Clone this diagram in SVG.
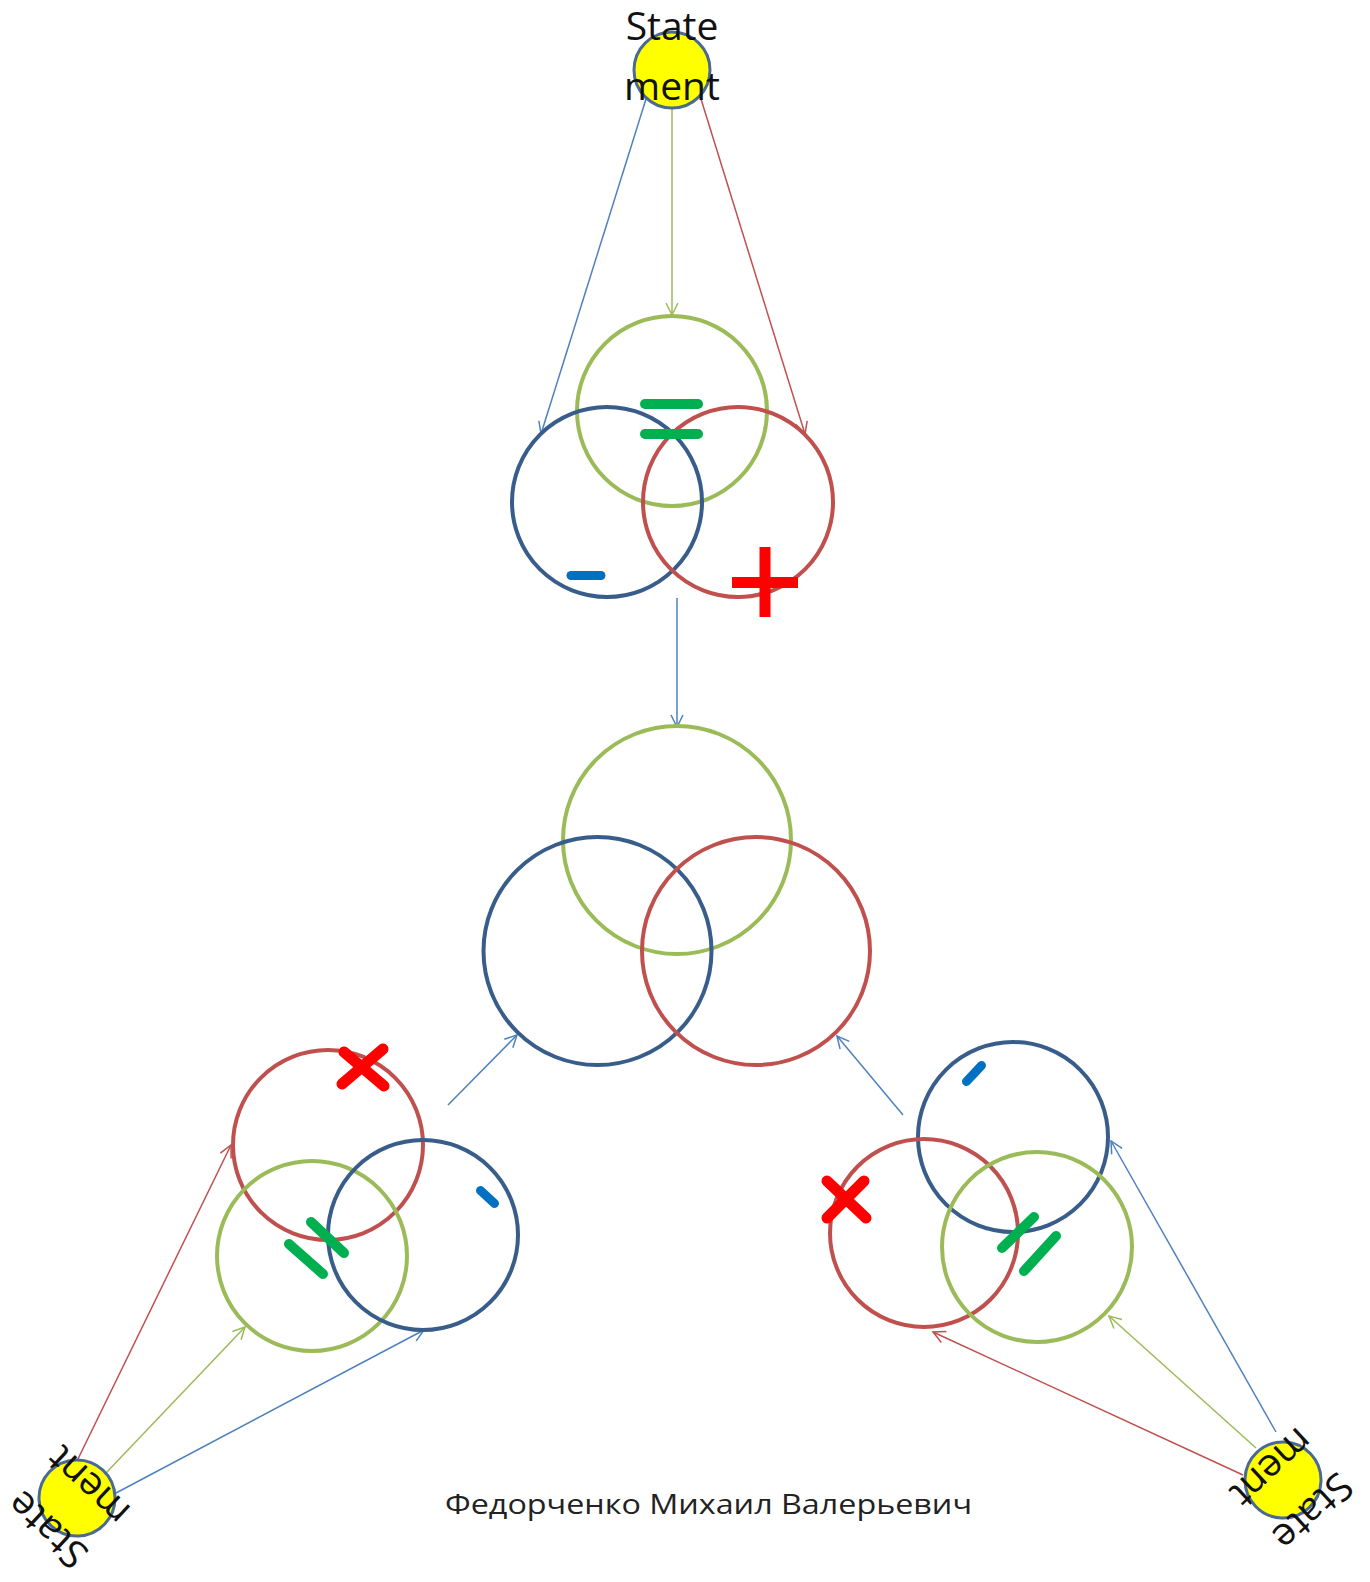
<svg xmlns="http://www.w3.org/2000/svg" width="1370" height="1582" viewBox="0 0 1370 1582">
<style>
.bg{fill:#FFFFFF}
.ring{fill:none;stroke-width:4}
.gr{stroke:#9BBB59}
.bl{stroke:#385D8A}
.rd{stroke:#C0504D}
.stmt{fill:#FFFF00;stroke:#4A6A94;stroke-width:3}
.lbl{font-family:"Open Sans","Noto Sans","Liberation Sans",sans-serif;font-size:39px;fill:#111111;text-anchor:middle}
.author{font-family:"Open Sans","Noto Sans","Liberation Sans",sans-serif;font-size:28px;fill:#222222}
.cb{stroke:#4F81BD;stroke-width:1.5;fill:none;marker-end:url(#ab)}
.cg{stroke:#9BBB59;stroke-width:1.5;fill:none;marker-end:url(#ag)}
.cr{stroke:#C0504D;stroke-width:1.5;fill:none;marker-end:url(#ar)}
.sg{stroke:#00B050;stroke-width:10;stroke-linecap:round}
.sb{stroke:#0070C0;stroke-width:9;stroke-linecap:round}
.sr{stroke:#FF0000;stroke-width:11;stroke-linecap:round}
.sp{stroke:#FF0000;stroke-width:11;stroke-linecap:butt}
</style>
<defs>
<marker id="ab" viewBox="0 0 14 14" refX="13" refY="7" markerWidth="14" markerHeight="14" markerUnits="userSpaceOnUse" orient="auto"><path d="M1,1 L13,7 L1,13" fill="none" stroke="#4F81BD" stroke-width="1.5"/></marker>
<marker id="ag" viewBox="0 0 14 14" refX="13" refY="7" markerWidth="14" markerHeight="14" markerUnits="userSpaceOnUse" orient="auto"><path d="M1,1 L13,7 L1,13" fill="none" stroke="#9BBB59" stroke-width="1.5"/></marker>
<marker id="ar" viewBox="0 0 14 14" refX="13" refY="7" markerWidth="14" markerHeight="14" markerUnits="userSpaceOnUse" orient="auto"><path d="M1,1 L13,7 L1,13" fill="none" stroke="#C0504D" stroke-width="1.5"/></marker>
</defs>
<rect class="bg" x="0" y="0" width="1370" height="1582"/>

<g id="connectors">
<line class="cb" x1="646" y1="99" x2="541" y2="434"/>
<line class="cg" x1="672" y1="109" x2="672" y2="315"/>
<line class="cr" x1="701" y1="99" x2="805" y2="434"/>
<line class="cb" x1="677" y1="598" x2="677" y2="727"/>
<line class="cr" x1="76" y1="1463" x2="231" y2="1145"/>
<line class="cg" x1="106" y1="1473" x2="245" y2="1327"/>
<line class="cb" x1="116" y1="1493" x2="424" y2="1330"/>
<line class="cb" x1="448" y1="1105" x2="517" y2="1035"/>
<line class="cb" x1="1276" y1="1432" x2="1111" y2="1141"/>
<line class="cg" x1="1256" y1="1448" x2="1109" y2="1316"/>
<line class="cr" x1="1243" y1="1475" x2="933" y2="1332"/>
<line class="cb" x1="903" y1="1115" x2="837" y2="1036"/>
</g>

<g id="statement-top" transform="translate(672,70)">
<circle class="stmt" r="38"/>
<text class="lbl" x="0" y="-30">State</text>
<text class="lbl" x="0" y="30">ment</text>
</g>

<g id="statement-left" transform="translate(77,1498) rotate(223)">
<circle class="stmt" r="38"/>
<text class="lbl" x="0" y="-30">State</text>
<text class="lbl" x="0" y="30">ment</text>
</g>

<g id="statement-right" transform="translate(1283,1480) rotate(137)">
<circle class="stmt" r="38"/>
<text class="lbl" x="0" y="-30">State</text>
<text class="lbl" x="0" y="30">ment</text>
</g>

<g id="venn-top">
<circle class="ring gr" cx="672" cy="411" r="95"/>
<circle class="ring bl" cx="607" cy="502" r="95"/>
<circle class="ring rd" cx="738" cy="502" r="95"/>
<line class="sg" x1="645" y1="404" x2="698" y2="404"/>
<line class="sg" x1="645" y1="434" x2="698" y2="434"/>
<line class="sb" x1="571" y1="575.5" x2="601" y2="575.5"/>
<line class="sp" x1="732" y1="582.5" x2="798" y2="582.5"/>
<line class="sp" x1="765" y1="547" x2="765" y2="617"/>
</g>

<g id="venn-center">
<circle class="ring gr" cx="677" cy="840" r="114"/>
<circle class="ring bl" cx="597.5" cy="951" r="114"/>
<circle class="ring rd" cx="756" cy="951" r="114"/>
</g>

<g id="venn-left">
<circle class="ring rd" cx="328" cy="1145" r="95"/>
<circle class="ring gr" cx="312" cy="1256" r="95"/>
<circle class="ring bl" cx="423" cy="1235" r="95"/>
<line class="sr" x1="344" y1="1052" x2="384" y2="1086"/>
<line class="sr" x1="342" y1="1084" x2="383" y2="1049"/>
<line class="sg" x1="311" y1="1222" x2="344" y2="1253"/>
<line class="sg" x1="289" y1="1244" x2="323" y2="1274"/>
<line class="sb" x1="480.5" y1="1190.5" x2="494.5" y2="1203.5"/>
</g>

<g id="venn-right">
<circle class="ring bl" cx="1013" cy="1137" r="95"/>
<circle class="ring rd" cx="924" cy="1233" r="94"/>
<circle class="ring gr" cx="1037" cy="1247" r="95"/>
<line class="sr" x1="827" y1="1181" x2="866" y2="1218"/>
<line class="sr" x1="827" y1="1218" x2="864" y2="1181"/>
<line class="sg" x1="1002" y1="1248" x2="1034" y2="1217"/>
<line class="sg" x1="1024" y1="1271" x2="1056" y2="1236"/>
<line class="sb" x1="966.5" y1="1081.5" x2="981.5" y2="1065.5"/>
</g>

<g id="author">
<text class="author" x="445" y="1514" textLength="527" lengthAdjust="spacingAndGlyphs">Федорченко Михаил Валерьевич</text>
</g>
</svg>
